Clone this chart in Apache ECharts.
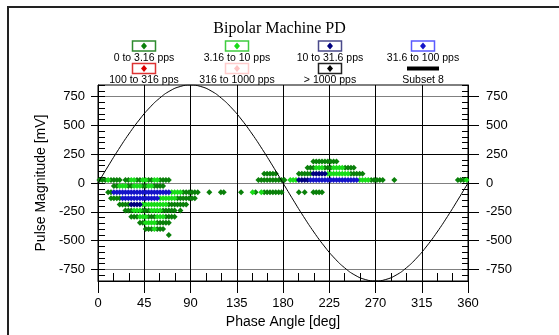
<!DOCTYPE html>
<html>
<head>
<meta charset="utf-8">
<script src="https://cdn.jsdelivr.net/npm/echarts@6/dist/echarts.min.js"></script>
<style>
  html, body { margin: 0; padding: 0; background: #fff; }
  #chart { width: 559px; height: 335px; }
</style>
</head>
<body>
<div id="chart"></div>
<script>
// analyser windows: 128 phase windows over 360 deg, 32 magnitude windows over -850..850 mV
const PHASE_BINS = 128;
const MAG_MIN = -850, MAG_MAX = 850, MAG_BINS = 32;

const seriesNames = ['0 to 3.16 pps', '3.16 to 10 pps', '10 to 31.6 pps', '31.6 to 100 pps',
  '100 to 316 pps', '316 to 1000 pps', '> 1000 pps', 'Subset 8'];
const seriesColors = ['#0a800a', '#18dc18', '#00007f', '#1414c8', '#dd0000', '#ffc4c4', '#000000', '#000000'];
const boxColors = ['#2e8b2e', '#3fcc3f', '#4a4a8a', '#5a5aff', '#dd3333', '#ffcccc', '#222222', '#000000'];

// occupied cells, as runs: [magnitude window, first phase window, last phase window]
const rate0 = [
  [16, 0, 2], [16, 4, 7], [16, 9, 10], [16, 13, 14], [16, 17, 18], [16, 21, 24],
  [15, 5, 6], [15, 10, 11], [15, 15, 16], [15, 19, 22],
  [14, 3, 4], [14, 29, 34], [14, 38, 38], [14, 42, 43], [14, 49, 49], [14, 54, 54],
  [14, 57, 63], [14, 69, 69], [14, 71, 71], [14, 74, 77],
  [13, 4, 7], [13, 27, 33],
  [12, 7, 10], [12, 24, 30],
  [11, 9, 11], [11, 15, 17], [11, 22, 26], [11, 28, 28],
  [10, 11, 13], [10, 17, 19], [10, 23, 26],
  [9, 14, 15], [9, 20, 24],
  [8, 16, 18], [8, 20, 22],
  [7, 24, 24],
  [19, 74, 82],
  [18, 72, 74], [18, 78, 80], [18, 85, 88],
  [17, 57, 61], [17, 69, 73], [17, 87, 91],
  [16, 55, 64], [16, 94, 98], [16, 102, 102], [16, 124, 126]
];
const rate1 = [
  [16, 3, 3], [16, 11, 12], [16, 15, 16], [16, 19, 20],
  [15, 7, 9], [15, 12, 14], [15, 17, 18],
  [14, 25, 28], [14, 53, 53], [14, 56, 56],
  [13, 21, 26],
  [12, 15, 23],
  [11, 12, 14], [11, 18, 21],
  [10, 14, 16], [10, 20, 22],
  [9, 16, 19],
  [8, 19, 19],
  [18, 75, 77], [18, 81, 84],
  [17, 79, 86],
  [16, 66, 68], [16, 90, 93], [16, 127, 127]
];
const rate2 = [[12, 11, 14], [17, 74, 78], [16, 69, 72]];
const rate3 = [[14, 5, 24], [13, 8, 20], [16, 73, 89]];
const rate4 = [];
const rate5 = [];
const rate6 = [];
const rateRuns = [rate0, rate1, rate2, rate3, rate4, rate5, rate6];

const magTicks = [-750, -500, -250, 0, 250, 500, 750];
const magGridColors = ['#808080', '#000', '#000', '#808080', '#000', '#000', '#808080'];

// reference sine, every 10 deg
const sinePhase = [0, 10, 20, 30, 40, 50, 60, 70, 80, 90, 100, 110, 120, 130, 140, 150, 160, 170, 180,
  190, 200, 210, 220, 230, 240, 250, 260, 270, 280, 290, 300, 310, 320, 330, 340, 350, 360];
const sineValue = [0, 148, 291, 425, 546, 651, 736, 799, 837, 850, 837, 799, 736, 651, 546, 425, 291, 148, 0,
  -148, -291, -425, -546, -651, -736, -799, -837, -850, -837, -799, -736, -651, -546, -425, -291, -148, 0];

function cells(runs) {
  const phaseStep = 360 / PHASE_BINS;
  const magStep = (MAG_MAX - MAG_MIN) / MAG_BINS;
  const pts = [];
  runs.forEach(([k, a, b]) => {
    for (let i = a; i <= b; i++) {
      pts.push([(i + 0.5) * phaseStep, MAG_MIN + (k + 0.5) * magStep]);
    }
  });
  return pts;
}

const font = 'Liberation Sans';
const chart = echarts.init(document.getElementById('chart'));

const series = rateRuns.map((runs, i) => ({
  name: seriesNames[i],
  type: 'scatter',
  symbol: 'diamond',
  symbolSize: [6, 6],
  itemStyle: { color: seriesColors[i], opacity: 1 },
  silent: true,
  data: cells(runs)
}));
series.push({
  name: 'sine',
  type: 'line',
  smooth: true,
  symbol: 'none',
  lineStyle: { color: '#000', width: 1 },
  silent: true,
  data: sinePhase.map((p, i) => [p, sineValue[i]])
});

// legend: box with a marker, name underneath, 4 per row
const legend = [];
seriesNames.forEach((name, i) => {
  const cx = 144 + (i % 4) * 93;
  const cy = 46 + Math.floor(i / 4) * 22.5;
  if (name === 'Subset 8') {
    legend.push({ type: 'rect', shape: { x: cx - 16, y: cy - 2, width: 32, height: 4 }, style: { fill: '#000' } });
  } else {
    legend.push({ type: 'rect', shape: { x: cx - 11.5, y: cy - 5, width: 23, height: 10 },
      style: { fill: '#fff', stroke: boxColors[i], lineWidth: 1.5 } });
    legend.push({ type: 'polygon', shape: { points: [[cx, cy - 3.5], [cx + 3, cy], [cx, cy + 3.5], [cx - 3, cy]] },
      style: { fill: seriesColors[i] } });
  }
  legend.push({ type: 'text', x: cx, y: cy + 12,
    style: { text: name, fill: '#000', font: '10.5px ' + font, textAlign: 'center', textVerticalAlign: 'middle' } });
});

chart.setOption({
  animation: false,
  title: {
    text: 'Bipolar Machine PD',
    left: 'center',
    top: 21,
    padding: [0, 0, 0, 11],
    textStyle: { fontFamily: 'Liberation Serif', fontSize: 16, fontWeight: 'normal', color: '#000' }
  },
  graphic: [
    { type: 'rect', shape: { x: 8, y: 7, width: 600, height: 400 }, style: { fill: 'none', stroke: '#222', lineWidth: 2 } }
  ].concat(legend),
  grid: { left: 98, right: 91, top: 85, bottom: 54, show: true, borderColor: '#000', borderWidth: 1, backgroundColor: 'transparent' },
  xAxis: [
    {
      type: 'value', min: 0, max: 360, interval: 45, position: 'bottom',
      name: 'Phase Angle [deg]', nameLocation: 'middle', nameGap: 32,
      nameTextStyle: { fontFamily: font, fontSize: 14, color: '#000' },
      axisLine: { onZero: false, lineStyle: { color: '#000' } },
      axisTick: { length: 12, lineStyle: { color: '#000' } },
      axisLabel: { margin: 16, fontFamily: font, fontSize: 13, color: '#000' },
      splitLine: { show: true, lineStyle: { color: '#000' } }
    },
    {
      type: 'value', min: 0, max: 360, interval: 15, position: 'bottom',
      axisLine: { show: false, onZero: false },
      axisTick: { inside: true, length: 8, lineStyle: { color: '#000' } },
      axisLabel: { show: false },
      splitLine: { show: false }
    }
  ],
  yAxis: [
    {
      type: 'value', min: MAG_MIN, max: MAG_MAX, position: 'left',
      name: 'Pulse Magnitude [mV]', nameLocation: 'middle', nameGap: 38,
      nameTextStyle: { fontFamily: font, fontSize: 14, color: '#000' },
      axisLine: { show: true, onZero: false, lineStyle: { color: '#000' } },
      axisTick: { show: true, customValues: magTicks, length: 7, lineStyle: { color: '#000' } },
      axisLabel: { customValues: magTicks, margin: 13, fontFamily: font, fontSize: 13, color: '#000' },
      splitLine: { show: true, showMinLine: true, showMaxLine: true, lineStyle: { color: magGridColors } }
    },
    {
      type: 'value', min: MAG_MIN, max: MAG_MAX, position: 'right',
      axisLine: { show: true, onZero: false, lineStyle: { color: '#000' } },
      axisTick: { show: true, customValues: magTicks, length: 11, lineStyle: { color: '#000' } },
      axisLabel: { customValues: magTicks, margin: 18, fontFamily: font, fontSize: 13, color: '#000' },
      splitLine: { show: false }
    },
    {
      type: 'value', min: MAG_MIN, max: MAG_MAX, interval: 50, position: 'left',
      axisLine: { show: false, onZero: false },
      axisTick: { show: true, inside: true, length: 7, lineStyle: { color: '#000' } },
      axisLabel: { show: false },
      splitLine: { show: false }
    },
    {
      type: 'value', min: MAG_MIN, max: MAG_MAX, interval: 50, position: 'right',
      axisLine: { show: false, onZero: false },
      axisTick: { show: true, inside: true, length: 6, lineStyle: { color: '#000' } },
      axisLabel: { show: false },
      splitLine: { show: false }
    }
  ],
  series: series
});
</script>
</body>
</html>
